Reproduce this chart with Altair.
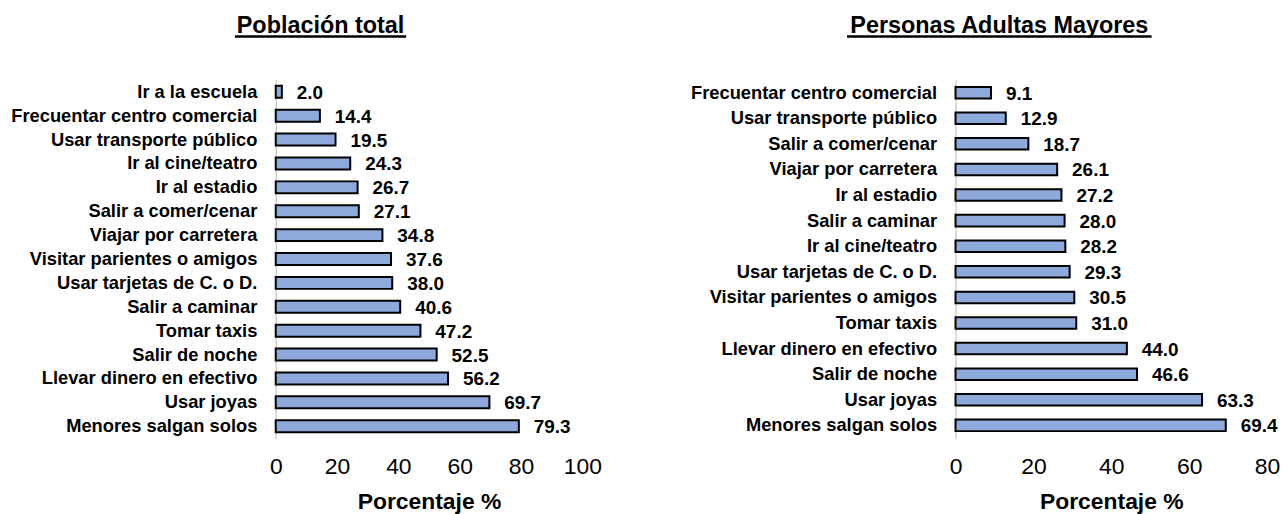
import altair as alt
import pandas as pd

FONT = "Liberation Sans, Arial, sans-serif"
BAR_FILL = "#8EA9DB"

left_title = "Población total"
left_cats = [
    "Ir a la escuela", "Frecuentar centro comercial", "Usar transporte público",
    "Ir al cine/teatro", "Ir al estadio", "Salir a comer/cenar", "Viajar por carretera",
    "Visitar parientes o amigos", "Usar tarjetas de C. o D.", "Salir a caminar",
    "Tomar taxis", "Salir de noche", "Llevar dinero en efectivo", "Usar joyas",
    "Menores salgan solos",
]
left_vals = [2.0, 14.4, 19.5, 24.3, 26.7, 27.1, 34.8, 37.6, 38.0, 40.6, 47.2, 52.5, 56.2, 69.7, 79.3]
left_ticks = [0, 20, 40, 60, 80, 100]

right_title = "Personas Adultas Mayores"
right_cats = [
    "Frecuentar centro comercial", "Usar transporte público", "Salir a comer/cenar",
    "Viajar por carretera", "Ir al estadio", "Salir a caminar", "Ir al cine/teatro",
    "Usar tarjetas de C. o D.", "Visitar parientes o amigos", "Tomar taxis",
    "Llevar dinero en efectivo", "Salir de noche", "Usar joyas", "Menores salgan solos",
]
right_vals = [9.1, 12.9, 18.7, 26.1, 27.2, 28.0, 28.2, 29.3, 30.5, 31.0, 44.0, 46.6, 63.3, 69.4]
right_ticks = [0, 20, 40, 60, 80]

x_title = "Porcentaje %"


def panel(title, cats, vals, ticks, width, pad_inner, title_x, ul_x1, ul_x2):
    df = pd.DataFrame({"cat": cats, "val": vals})
    y = alt.Y(
        "cat:N", sort=cats, title=None,
        scale=alt.Scale(paddingInner=pad_inner, paddingOuter=pad_inner / 2),
        axis=alt.Axis(
            ticks=False, tickSize=0, labelPadding=19, domainColor="#d0d0d0",
            domainWidth=1.5, labelFont=FONT, labelFontSize=18.4, labelFontWeight="bold",
            labelColor="black", labelLimit=400,
        ),
    )
    x = alt.X(
        "val:Q", title=x_title,
        scale=alt.Scale(domain=[ticks[0], ticks[-1]], nice=False),
        axis=alt.Axis(
            values=ticks, domain=False, ticks=False, tickSize=0, grid=False,
            labelFlush=False, labelOverlap=False,
            labelFont=FONT, labelFontSize=23, labelColor="black", labelPadding=18,
            titleFont=FONT, titleFontSize=23, titleFontWeight="bold", titleColor="black",
            titlePadding=12, format="d",
        ),
    )
    base = alt.Chart(df)
    bars = base.mark_bar(fill=BAR_FILL, stroke="black", strokeWidth=2).encode(x=x, y=y)
    labels = base.mark_text(
        align="left", baseline="middle", dx=15, dy=1, font=FONT, fontSize=19,
        fontWeight="bold", color="black",
    ).encode(x="val:Q", y=alt.Y("cat:N", sort=cats), text=alt.Text("val:Q", format=".1f"))
    tdf = pd.DataFrame({"t": [title]})
    ttl = alt.Chart(tdf).mark_text(
        align="center", baseline="alphabetic", font=FONT, fontSize=23.5,
        fontWeight="bold", color="black",
    ).encode(text="t:N", x=alt.value(title_x), y=alt.value(-47))
    ul = alt.Chart(tdf).mark_rule(color="black", strokeWidth=2.5).encode(
        x=alt.value(ul_x1), x2=alt.value(ul_x2), y=alt.value(-43.5)
    )
    return alt.layer(bars, labels, ttl, ul).properties(width=width, height=360)


left = panel(left_title, left_cats, left_vals, left_ticks, 308, 0.5, 45, -41, 131)
right = panel(right_title, right_cats, right_vals, right_ticks, 313, 0.55, 44, -109, 197)

chart = alt.hconcat(left, right, spacing=88).properties(
    padding={"left": 2, "top": 5, "right": 0, "bottom": 0}
).configure_view(strokeWidth=0).resolve_scale(y="independent", x="independent")

chart.save("out.html", embed_options={"renderer": "svg", "actions": False})
